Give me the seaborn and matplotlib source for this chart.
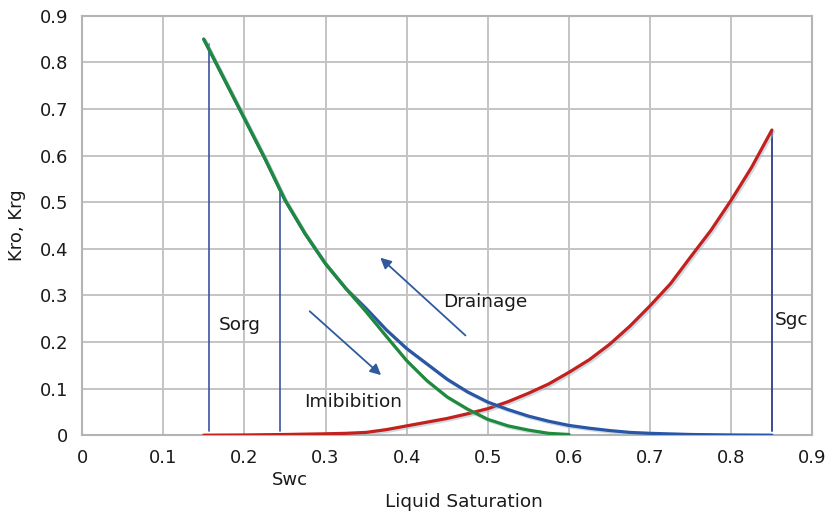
import matplotlib
matplotlib.use("Agg")
import matplotlib.pyplot as plt
import matplotlib.patheffects as pe
import pandas as pd
import seaborn as sns

sns.set_theme(style="whitegrid")
plt.rcParams['font.family'] = ['DejaVu Sans']

# values (Kro imbibition, Kro drainage, Krg)
sat_imb = [0.150, 0.175, 0.200, 0.225, 0.250, 0.275, 0.300, 0.325, 0.350, 0.375,
           0.400, 0.425, 0.450, 0.475, 0.500, 0.525, 0.550, 0.575, 0.600]
kro_imb = [0.85, 0.765, 0.68, 0.595, 0.505, 0.432, 0.368, 0.315, 0.265, 0.212,
           0.16, 0.117, 0.082, 0.056, 0.034, 0.02, 0.011, 0.004, 0.0015]

sat_dra = [0.150, 0.175, 0.200, 0.225, 0.250, 0.275, 0.300, 0.325, 0.350, 0.375,
           0.400, 0.425, 0.450, 0.475, 0.500, 0.525, 0.550, 0.575, 0.600, 0.625,
           0.650, 0.675, 0.700, 0.750, 0.800, 0.850]
kro_dra = [0.85, 0.765, 0.68, 0.595, 0.505, 0.432, 0.368, 0.315, 0.272, 0.226,
           0.186, 0.153, 0.12, 0.093, 0.071, 0.055, 0.041, 0.03, 0.021, 0.015,
           0.01, 0.006, 0.004, 0.0015, 0.0005, 0.0]

sat_gas = [0.150, 0.200, 0.250, 0.300, 0.325, 0.350, 0.375, 0.400, 0.425, 0.450,
           0.475, 0.500, 0.525, 0.550, 0.575, 0.600, 0.625, 0.650, 0.675, 0.700,
           0.725, 0.750, 0.775, 0.800, 0.825, 0.850]
krg = [0.0, 0.0005, 0.0015, 0.003, 0.004, 0.006, 0.012, 0.02, 0.028, 0.036,
       0.046, 0.057, 0.072, 0.09, 0.11, 0.135, 0.162, 0.195, 0.234, 0.278,
       0.325, 0.383, 0.44, 0.505, 0.575, 0.655]

# marker lines: (x, top)
sorg_line = (0.156, 0.84)
swc_line = (0.244, 0.52)
sgc_line = (0.85, 0.655)

ticks = [0, 0.1, 0.2, 0.3, 0.4, 0.5, 0.6, 0.7, 0.8, 0.9]
tick_labels = ['0', '0.1', '0.2', '0.3', '0.4', '0.5', '0.6', '0.7', '0.8', '0.9']

fig = plt.figure(figsize=(8.31, 5.12), dpi=100)
ax = fig.add_axes([0.0987, 0.150, 0.879, 0.819])
ax.set_facecolor('white')

shadow = [pe.SimpleLineShadow(offset=(1.2, -1.2), shadow_color='#9fb8c8', alpha=0.5), pe.Normal()]

# vertical saturation markers
for x, top in (sorg_line, swc_line):
    ax.plot([x, x], [0.01, top], color='#3b55a0', lw=1.2, zorder=3)
ax.plot([sgc_line[0]] * 2, [0.01, sgc_line[1]], color='#3d4a8c', lw=1.4, zorder=3)

df_dra = pd.DataFrame({'sat': sat_dra, 'kr': kro_dra})
df_imb = pd.DataFrame({'sat': sat_imb, 'kr': kro_imb})
df_gas = pd.DataFrame({'sat': sat_gas, 'kr': krg})

sns.lineplot(data=df_gas, x='sat', y='kr', ax=ax, color='#c3211d', lw=2.3,
             path_effects=shadow, zorder=4)
sns.lineplot(data=df_dra, x='sat', y='kr', ax=ax, color='#2a56a6', lw=2.3,
             path_effects=shadow, zorder=5)
sns.lineplot(data=df_imb, x='sat', y='kr', ax=ax, color='#1d8a3c', lw=2.3,
             path_effects=shadow, zorder=6)

# arrows
arrow_kw = dict(arrowstyle='-|>', color='#2f5a9e', lw=1.3, mutation_scale=16)
ax.annotate('', xy=(0.365, 0.385), xytext=(0.475, 0.21), arrowprops=arrow_kw)
ax.annotate('', xy=(0.371, 0.125), xytext=(0.278, 0.27), arrowprops=arrow_kw)

txt = dict(fontsize=13.3, color='#1a1a1a', va='center', ha='left')
ax.text(0.445, 0.285, 'Drainage', **txt)
ax.text(0.274, 0.071, 'Imibibition', **txt)
ax.text(0.168, 0.236, 'Sorg', **txt)
ax.text(0.853, 0.247, 'Sgc', **txt)

ax.set_xlim(0, 0.9)
ax.set_ylim(0, 0.9)
ax.set_xticks(ticks)
ax.set_xticklabels(tick_labels)
ax.set_yticks(ticks)
ax.set_yticklabels(tick_labels)
ax.tick_params(axis='both', labelsize=13, length=0, pad=10, colors='#1a1a1a')
ax.grid(True, color='#c4c4c4', lw=1.4)
for s in ax.spines.values():
    s.set_color('#b4b4b4')
    s.set_linewidth(1.5)

ax.set_xlabel('')
ax.set_ylabel('Kro, Krg', fontsize=13, color='#1a1a1a', labelpad=10)
fig.text(0.349, 0.062, 'Swc', fontsize=13, ha='center', va='center', color='#1a1a1a')
fig.text(0.558, 0.02, 'Liquid Saturation', fontsize=13.3, ha='center', va='center', color='#1a1a1a')

fig.savefig('out.png', dpi=100, facecolor='white')
